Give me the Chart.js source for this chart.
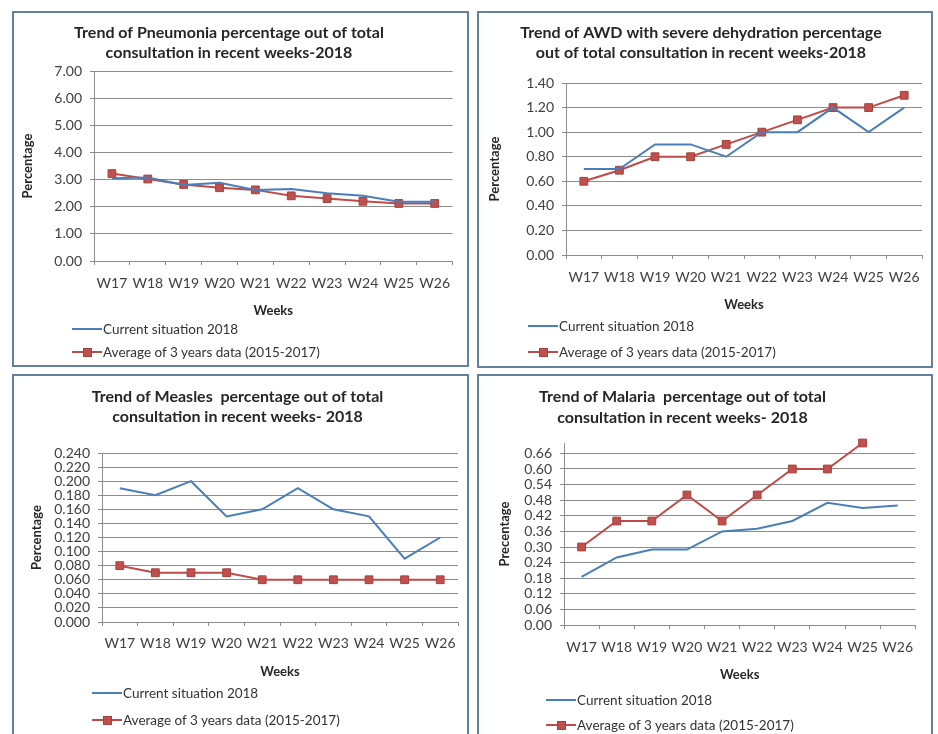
<!DOCTYPE html>
<html><head><meta charset="utf-8">
<script src="https://cdn.jsdelivr.net/npm/chart.js@4.4.1/dist/chart.umd.min.js"></script>
<style>
html,body{margin:0;padding:0;background:#fff;width:938px;height:734px;overflow:hidden;font-family:Lato,sans-serif;}
.panel{position:absolute;border:2px solid #63819f;background:#fff;overflow:hidden;box-sizing:border-box;}
.panel canvas{position:absolute;top:0;}
.leg{position:absolute;height:16px;white-space:nowrap;}
.leg .ln{position:absolute;left:0;width:30px;height:2px;top:7px;}
.leg .mk{position:absolute;left:11px;top:4px;width:7px;height:7px;background:#c0504d;border:1px solid #a5403d;}
.leg .tx{position:absolute;left:31px;top:0;font-family:Lato,sans-serif;font-size:13.5px;line-height:16px;color:#333;}
</style>
</head><body>
<div class="panel" id="p1" style="left:12px;top:11px;width:457px;height:356px;"></div>
<div class="panel" id="p2" style="left:477px;top:11px;width:456px;height:357px;"></div>
<div class="panel" id="p3" style="left:12px;top:374px;width:457px;height:380px;"></div>
<div class="panel" id="p4" style="left:477px;top:374px;width:456px;height:380px;"></div>
<script>
const weeks = ['W17','W18','W19','W20','W21','W22','W23','W24','W25','W26'];
const seriesNames = ['Current situation 2018','Average of 3 years data (2015-2017)'];

const pneumoniaTitle = ['Trend of Pneumonia percentage out of total','consultation in recent weeks-2018'];
const pneumoniaCurrent = [3.05,3.08,2.80,2.88,2.62,2.65,2.50,2.40,2.18,2.18];
const pneumoniaAverage = [3.22,3.02,2.82,2.70,2.62,2.40,2.30,2.20,2.12,2.12];
const pneumoniaTicks = [0,1,2,3,4,5,6,7];

const awdTitle = ['Trend of AWD with severe dehydration percentage','out of total consultation in recent weeks-2018'];
const awdCurrent = [0.70,0.70,0.90,0.90,0.80,1.00,1.00,1.20,1.00,1.20];
const awdAverage = [0.60,0.69,0.80,0.80,0.90,1.00,1.10,1.20,1.20,1.30];
const awdTicks = [0,0.2,0.4,0.6,0.8,1.0,1.2,1.4];

const measlesTitle = ['Trend of Measles  percentage out of total','consultation in recent weeks- 2018'];
const measlesCurrent = [0.19,0.18,0.20,0.15,0.16,0.19,0.16,0.15,0.09,0.12];
const measlesAverage = [0.08,0.07,0.07,0.07,0.06,0.06,0.06,0.06,0.06,0.06];
const measlesTicks = [0,0.02,0.04,0.06,0.08,0.10,0.12,0.14,0.16,0.18,0.20,0.22,0.24];

const malariaTitle = ['Trend of Malaria  percentage out of total','consultation in recent weeks- 2018'];
const malariaCurrent = [0.185,0.26,0.29,0.29,0.36,0.37,0.40,0.47,0.45,0.46];
const malariaAverage = [0.30,0.40,0.40,0.50,0.40,0.50,0.60,0.60,0.70,null];
const malariaTicks = [0,0.06,0.12,0.18,0.24,0.30,0.36,0.42,0.48,0.54,0.60,0.66];

const GRID = '#8c8c8c';
const FONT = 'Lato';
const TITLE_SIZE = 16;

const panels = [
  {id:'p1', title:pneumoniaTitle, cur:pneumoniaCurrent, avg:pneumoniaAverage, ticks:pneumoniaTicks, min:0, max:7, dec:2, ytitle:'Percentage',
   cl:-14, cw:460, ch:352, pl:80, pr:444, pt:58, pb:248, t1:20, tlh:20, xLabelC:270, weeksC:298, yTitleC:14,
   leg:{x:58, y1:316, y2:339}},
  {id:'p2', title:awdTitle, cur:awdCurrent, avg:awdAverage, ticks:awdTicks, min:0, max:1.4, dec:2, ytitle:'Percentage',
   cl:1, cw:462, ch:353, pl:87, pr:443, pt:70, pb:242, t1:20, tlh:20, xLabelC:264, weeksC:292, yTitleC:16,
   leg:{x:49, y1:313, y2:339}},
  {id:'p3', title:measlesTitle, cur:measlesCurrent, avg:measlesAverage, ticks:measlesTicks, min:0, max:0.24, dec:3, ytitle:'Percentage',
   cl:3, cw:450, ch:358, pl:88, pr:444, pt:77, pb:246, t1:21, tlh:20, xLabelC:267, weeksC:296, yTitleC:23,
   leg:{x:78, y1:317, y2:344}},
  {id:'p4', title:malariaTitle, cur:malariaCurrent, avg:malariaAverage, ticks:malariaTicks, min:0, max:0.70, dec:2, ytitle:'Precentage',
   cl:-36, cw:480, ch:358, pl:85, pr:443, pt:67, pb:249, t1:21, tlh:21, xLabelC:271, weeksC:299, yTitleC:26,
   leg:{x:67, y1:324, y2:349}}
];

function addLegend(panel, p) {
  const items = [
    {name: seriesNames[0], color:'#4a7ebb', marker:false, y:p.leg.y1},
    {name: seriesNames[1], color:'#be4b48', marker:true, y:p.leg.y2}
  ];
  items.forEach(it => {
    const d = document.createElement('div');
    d.className = 'leg';
    d.style.left = p.leg.x + 'px';
    d.style.top = (it.y - 8) + 'px';
    d.innerHTML = '<div class="ln" style="background:' + it.color + '"></div>' +
      (it.marker ? '<div class="mk"></div>' : '') +
      '<div class="tx"></div>';
    d.querySelector('.tx').textContent = it.name;
    panel.appendChild(d);
  });
}

function build(p) {
  const panel = document.getElementById(p.id);
  const cv = document.createElement('canvas');
  cv.width = p.cw; cv.height = p.ch;
  cv.style.left = p.cl + 'px';
  cv.style.width = p.cw + 'px'; cv.style.height = p.ch + 'px';
  panel.appendChild(cv);
  const pl = p.pl - p.cl, pr = p.pr - p.cl;
  const R = p.cw - pr;
  const yW = pl;
  const xH = p.weeksC - p.pb + 7.8;
  const padBottom = p.ch - p.pb - xH;
  const tPadTop = p.t1 - p.tlh / 2;
  const tPadBottom = p.pt - tPadTop - 2 * p.tlh;
  new Chart(cv, {
    type: 'line',
    data: {
      labels: weeks,
      datasets: [
        {label: seriesNames[0], data: p.cur, borderColor: '#4a7ebb', backgroundColor: '#4a7ebb', borderWidth: 2, pointRadius: 0, tension: 0, clip: false},
        {label: seriesNames[1], data: p.avg, borderColor: '#be4b48', backgroundColor: '#c0504d', borderWidth: 2, tension: 0, clip: false,
         pointStyle: 'rect', pointRadius: 5.5, pointBackgroundColor: '#c0504d', pointBorderColor: '#a5403d', pointBorderWidth: 1}
      ]
    },
    options: {
      responsive: false, animation: false, devicePixelRatio: 1,
      layout: {padding: {left: 0, right: R, top: 0, bottom: padBottom}},
      plugins: {
        legend: {display: false},
        tooltip: {enabled: false},
        title: {display: true, text: p.title, color: '#262626',
          font: {family: FONT, size: TITLE_SIZE, weight: 'bold', lineHeight: p.tlh / TITLE_SIZE},
          padding: {top: tPadTop, bottom: tPadBottom}}
      },
      scales: {
        x: {
          offset: true,
          grid: {offset: true, drawOnChartArea: false, drawTicks: true, tickLength: 4, color: GRID},
          border: {color: GRID, width: 1},
          ticks: {font: {family: FONT, size: 14}, color: '#404040', padding: p.xLabelC - p.pb - 4 - 8.4, maxRotation: 0, autoSkip: false},
          title: {display: true, text: 'Weeks', color: '#262626', font: {family: FONT, size: 13, weight: 'bold'}, padding: {top: 0, bottom: 0}},
          afterFit: s => { s.height = xH; }
        },
        y: {
          min: p.min, max: p.max,
          afterBuildTicks: s => { s.ticks = p.ticks.map(v => ({value: v})); },
          grid: {color: GRID, tickLength: 4, lineWidth: 1},
          border: {color: GRID, width: 1},
          ticks: {font: {family: FONT, size: 14}, color: '#404040', padding: 8, autoSkip: false, callback: v => Number(v).toFixed(p.dec)},
          title: {display: true, text: p.ytitle, color: '#262626', font: {family: FONT, size: 13, weight: 'bold'}, padding: {top: (p.yTitleC - p.cl) - 7.8, bottom: 0}},
          afterFit: s => { s.width = yW; }
        }
      }
    }
  });
  addLegend(panel, p);
}

panels.forEach(build);
</script>
</body></html>
